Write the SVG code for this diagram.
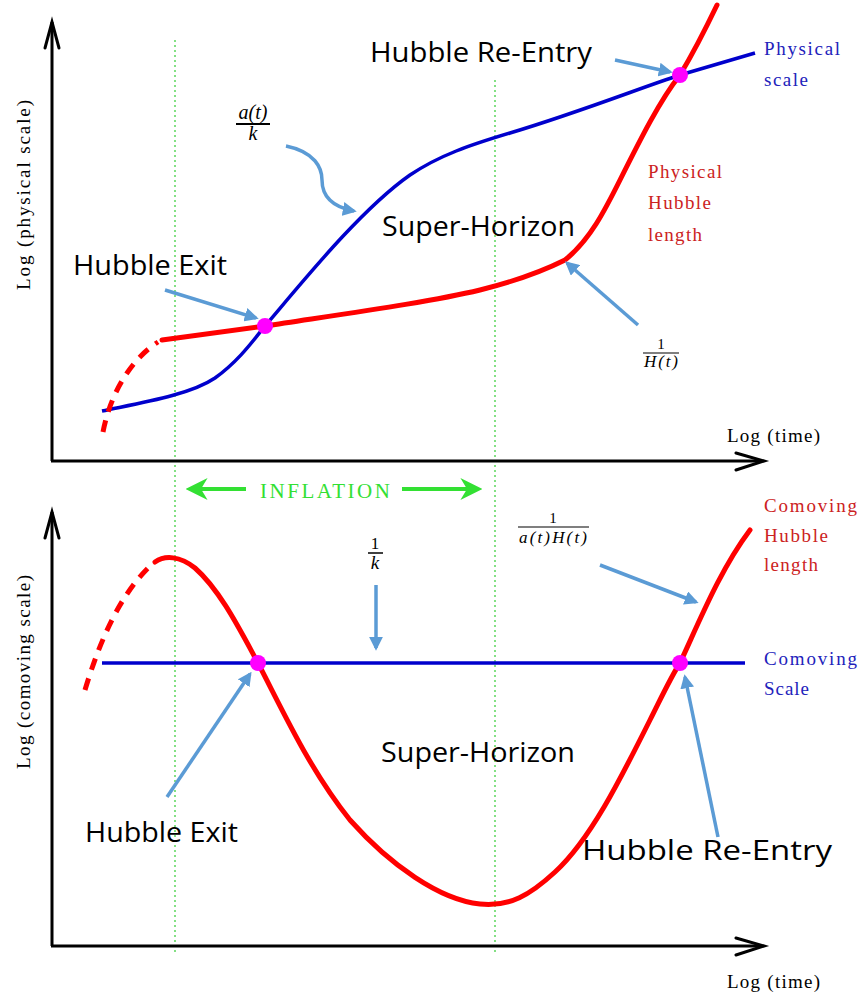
<svg xmlns="http://www.w3.org/2000/svg" width="860" height="999" viewBox="0 0 860 999">
<defs>
<marker id="ah" viewBox="0 0 10 10" refX="8" refY="5" markerWidth="4" markerHeight="4" orient="auto-start-reverse" markerUnits="strokeWidth">
<path d="M0,0 L10,5 L0,10 Z" fill="#5b9bd5"/>
</marker>
<marker id="gh" viewBox="0 0 10 10" refX="8" refY="5" markerWidth="5.5" markerHeight="5.5" orient="auto-start-reverse" markerUnits="strokeWidth">
<path d="M0,0 L10,5 L0,10 L3,5 Z" fill="#33e033"/>
</marker>
</defs>
<style>
.ax{stroke:#000;stroke-width:3;fill:none}
.ah{stroke:#000;stroke-width:3;fill:none;stroke-linecap:round}
.grid{stroke:#33cc33;stroke-width:1.2;stroke-dasharray:2,3;fill:none}
.red{stroke:#ff0000;stroke-width:5;fill:none;stroke-linecap:round}
.redd{stroke:#ff0000;stroke-width:5;fill:none;stroke-dasharray:12,9}
.blue{stroke:#0000cc;stroke-width:3.5;fill:none}
.pt{fill:#ff00ff}
.call{stroke:#5b9bd5;stroke-width:3.5;fill:none;marker-end:url(#ah)}
.big{font-family:"Open Sans","Liberation Sans",sans-serif;font-size:27px;fill:#000}
.lb{font-family:"Liberation Serif",serif;font-size:19px}
.lr{fill:#cc2222}
.lbl{fill:#2222bb}
.math{font-family:"Liberation Serif",serif;font-style:italic;fill:#000}
.mn{font-family:"Liberation Serif",serif;fill:#000}
</style>
<rect width="860" height="999" fill="#fff"/>
<g id="grid">
<line class="grid" x1="175" y1="40" x2="175" y2="952"/>
<line class="grid" x1="495" y1="80" x2="495" y2="952"/>
</g>
<g id="axes">
<line class="ax" x1="52" y1="22" x2="52" y2="461"/>
<line class="ax" x1="51" y1="461" x2="762" y2="461"/>
<path class="ah" d="M45,48 L52,22 L59,48"/>
<path class="ah" d="M736,453 L764,461 L736,470"/>
<line class="ax" x1="52" y1="512" x2="52" y2="946"/>
<line class="ax" x1="51" y1="946" x2="762" y2="946"/>
<path class="ah" d="M45,538 L52,512 L59,538"/>
<path class="ah" d="M736,938 L764,946 L736,955"/>
</g>
<g id="curves-top">
<path class="blue" d="M102,411 C140,403 190,395 215,378 C240,360 255,338 265,326 C300,285 360,210 410,175 C440,155 470,145 510,133 C580,112 640,88 680,75 L755,53"/>
<path class="redd" d="M103,432 C110,395 130,360 158,342"/>
<path class="red" d="M162,340 L265,326 C350,313 430,302 480,290 C520,280 545,270 565,260 C590,240 605,210 620,180 C640,140 660,100 680,75 C695,50 705,30 717,5"/>
<circle id="exit-top" class="pt" cx="265" cy="326" r="8"/>
<circle id="reentry-top" class="pt" cx="680" cy="75" r="8"/>
</g>
<g id="curves-bottom">
<line class="blue" x1="102" y1="663" x2="745" y2="663"/>
<path class="redd" d="M85,690 C100,640 120,595 150,566"/>
<path class="red" d="M155,562 C165,555 180,556 195,568 C220,590 240,630 258,663 C285,715 310,770 350,820 C390,865 440,900 480,904 C510,907 530,895 555,872 C590,840 620,780 650,720 C665,690 672,675 680,663 C700,620 720,570 750,530"/>
<circle id="exit-bottom" class="pt" cx="258" cy="663" r="8"/>
<circle id="reentry-bottom" class="pt" cx="680" cy="663" r="8"/>
</g>
<g id="connectors">
<path class="call" d="M615,60 L670,72"/>
<path class="call" d="M286,146 C315,152 322,168 322,180 C322,200 338,208 354,211"/>
<path class="call" d="M165,290 L256,318"/>
<path class="call" d="M638,325 L567,263"/>
<path class="call" d="M376,585 L376,648"/>
<path class="call" d="M167,797 L250,674"/>
<path class="call" d="M718,837 L685,677"/>
<path class="call" d="M600,565 L696,602"/>
<line x1="246" y1="489" x2="190" y2="489" stroke="#33e033" stroke-width="4" marker-end="url(#gh)"/>
<line x1="402" y1="489" x2="478" y2="489" stroke="#33e033" stroke-width="4" marker-end="url(#gh)"/>
</g>
<g id="labels">
<text class="big" x="370" y="62" textLength="222" lengthAdjust="spacingAndGlyphs">Hubble Re-Entry</text>
<text class="big" x="382" y="236" textLength="193" lengthAdjust="spacingAndGlyphs">Super-Horizon</text>
<text class="big" x="73" y="275" textLength="154" lengthAdjust="spacingAndGlyphs">Hubble Exit</text>
<text class="big" x="381" y="762" textLength="194" lengthAdjust="spacingAndGlyphs">Super-Horizon</text>
<text class="big" x="85" y="842" textLength="153" lengthAdjust="spacingAndGlyphs">Hubble Exit</text>
<text class="big" x="582" y="860" style="font-size:28px" textLength="250" lengthAdjust="spacingAndGlyphs">Hubble Re-Entry</text>
<text class="lb lbl" x="764" y="55" textLength="76">Physical</text>
<text class="lb lbl" x="764" y="86" textLength="44">scale</text>
<text class="lb lr" x="648" y="178" textLength="74">Physical</text>
<text class="lb lr" x="648" y="209" textLength="63">Hubble</text>
<text class="lb lr" x="648" y="241" textLength="54">length</text>
<text class="lb lr" x="764" y="512" textLength="93">Comoving</text>
<text class="lb lr" x="764" y="542" textLength="64">Hubble</text>
<text class="lb lr" x="764" y="571" textLength="54">length</text>
<text class="lb lbl" x="764" y="665" textLength="93">Comoving</text>
<text class="lb lbl" x="764" y="695" textLength="45">Scale</text>
<text class="lb" x="727" y="442" textLength="93">Log (time)</text>
<text class="lb" x="727" y="988" textLength="93">Log (time)</text>
<text class="lb" transform="translate(30,195) rotate(-90)" text-anchor="middle" textLength="190">Log (physical scale)</text>
<text class="lb" transform="translate(30,672) rotate(-90)" text-anchor="middle" textLength="194">Log (comoving scale)</text>
<text x="260" y="498" font-family="Liberation Serif,serif" font-size="21" fill="#33e033" textLength="130">INFLATION</text>
</g>
<g id="math">
<text class="math" x="253" y="119" text-anchor="middle" style="font-size:20px">a(t)</text>
<line x1="236" y1="124" x2="270" y2="124" stroke="#000" stroke-width="1.8"/>
<text class="math" x="253" y="140" text-anchor="middle" style="font-size:20px">k</text>
<text class="mn" x="661" y="349" text-anchor="middle" style="font-size:15px">1</text>
<line x1="643" y1="353" x2="679" y2="353" stroke="#000" stroke-width="1.2"/>
<text class="math" x="661" y="367" text-anchor="middle" style="font-size:17px" textLength="34">H(t)</text>
<text class="mn" x="553" y="523" text-anchor="middle" style="font-size:15px">1</text>
<line x1="518" y1="527" x2="589" y2="527" stroke="#000" stroke-width="1.2"/>
<text class="math" x="553" y="543" text-anchor="middle" style="font-size:17px" textLength="68">a(t)H(t)</text>
<text class="mn" x="375" y="549" text-anchor="middle" style="font-size:17px">1</text>
<line x1="368" y1="553" x2="383" y2="553" stroke="#000" stroke-width="1.5"/>
<text class="math" x="375" y="569" text-anchor="middle" style="font-size:19px">k</text>
</g>
</svg>
